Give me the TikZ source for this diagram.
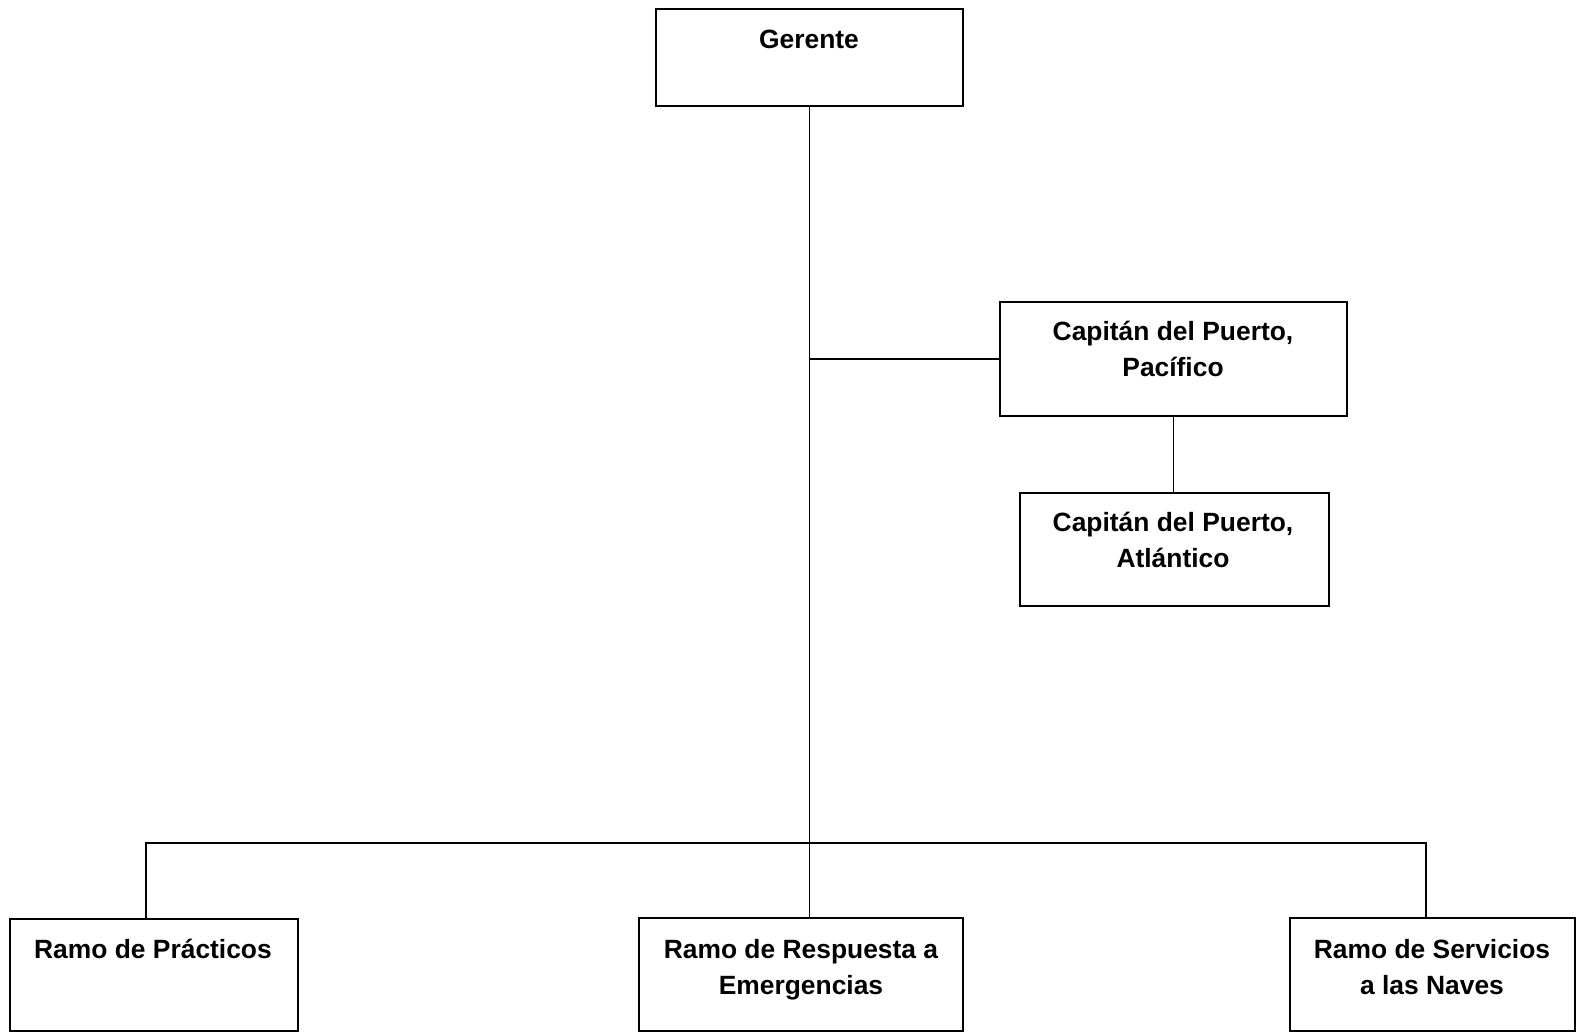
\documentclass[tikz,border=0pt]{standalone}
\usepackage{fontspec}
\setmainfont{Liberation Sans}
\usetikzlibrary{fit}
\begin{document}
\begin{tikzpicture}[x=0.5pt,y=-0.5pt,
  box/.style={draw=black, line width=0.8pt, inner sep=0pt},
  lbl/.style={font=\bfseries\fontsize{13.2}{17.8}\selectfont, align=center, anchor=base, inner sep=0pt},
  link/.style={draw=black, line width=0.8pt}]
\useasboundingbox (0,0) rectangle (1579,1033);

% boxes
\node[box, fit={(656,9) (963,106)}] (g) {};
\node[box, fit={(1000,302) (1347,416)}] (p) {};
\node[box, fit={(1020,493) (1329,606)}] (a) {};
\node[box, fit={(10,919) (298,1031)}] (rp) {};
\node[box, fit={(639,918) (963,1031)}] (rr) {};
\node[box, fit={(1290,918) (1575,1031)}] (rs) {};

% labels (the base anchor of a two-line label is its last baseline)
\node[lbl] (tg) at (809,48) {Gerente};
\node[lbl] (tp) at (1173,376) {Capitán del Puerto,\\Pacífico};
\node[lbl] (ta) at (1173,567) {Capitán del Puerto,\\Atlántico};
\node[lbl] (trp) at (153,958) {Ramo de Prácticos};
\node[lbl] (trr) at (801,994) {Ramo de Respuesta a\\Emergencias};
\node[lbl] (trs) at (1432,994) {Ramo de Servicios\\a las Naves};

% connectors
\coordinate (jl) at (146,843);
\coordinate (jr) at (1426,843);
\draw[link] (g.south) -- (g.south |- rr.north);
\draw[link] (g.south |- p.west) -- (p.west);
\draw[link] (p.south) -- (p.south |- a.north);
\draw[link] (jl |- rp.north) -- (jl) -- (jr) -- (jr |- rs.north);
\end{tikzpicture}
\end{document}
